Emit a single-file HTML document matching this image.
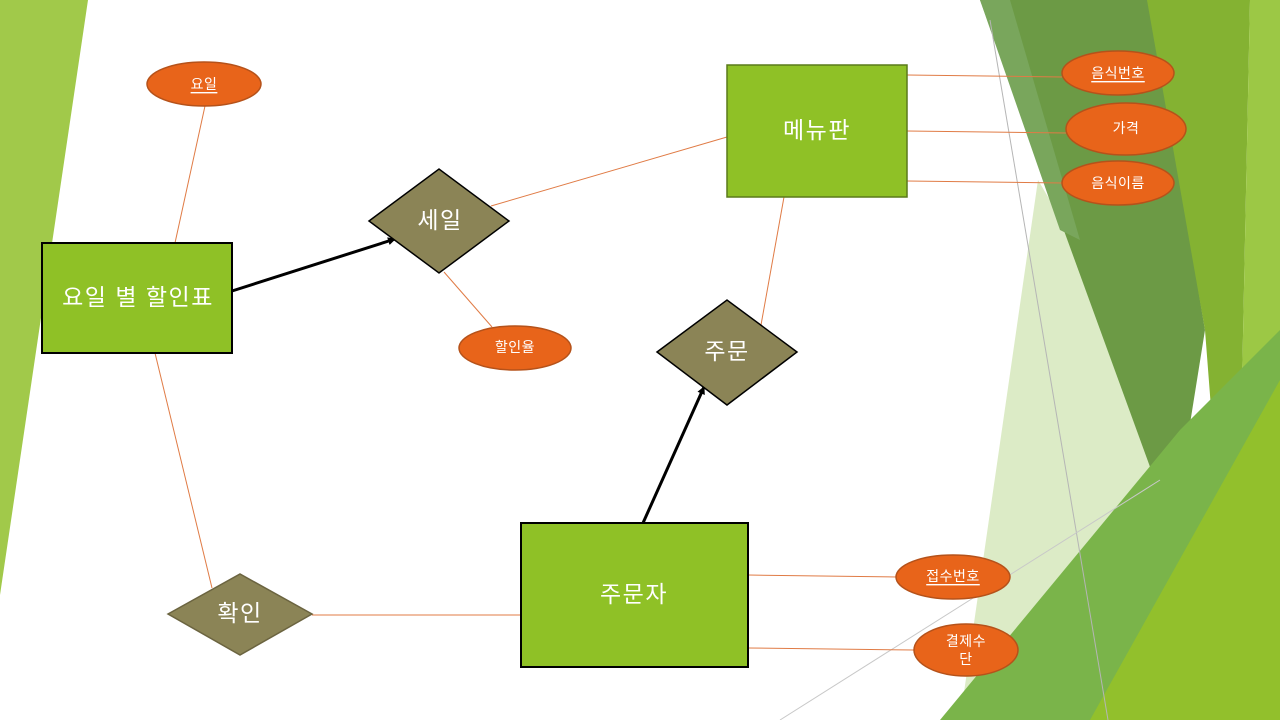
<!DOCTYPE html>
<html><head><meta charset="utf-8"><style>
html,body{margin:0;padding:0;background:#fff;}
svg{display:block;}
text{font-family:"Liberation Sans","Noto Sans CJK KR",sans-serif;fill:#fff;text-anchor:middle;dominant-baseline:central;}
.big{font-size:23px;letter-spacing:1.5px;}
.sm{font-size:14px;letter-spacing:0.5px;}
</style></head><body>
<svg width="1280" height="720" viewBox="0 0 1280 720" xmlns="http://www.w3.org/2000/svg">
<polygon points="0,0 88,0 0,595" fill="#a1c94a"/>
<polygon points="1038,180 1210,470 1200,720 960,720" fill="#dcebc6"/>
<polygon points="980,0 1150,0 1205,330 1173,530" fill="#6c9a45"/>
<polygon points="980,0 1010,0 1080,240 1060,230" fill="#79a65c"/>
<polygon points="1147,0 1250,0 1235,720 1205,330" fill="#84b232"/>
<polygon points="1250,0 1280,0 1280,720 1235,720" fill="#9cc845"/>
<polygon points="940,720 1180,430 1280,330 1280,720" fill="#7ab44a"/>
<polygon points="1090,720 1280,380 1280,720" fill="#92c02c"/>
<line x1="990" y1="20" x2="1108" y2="720" stroke="#b5b5b5" stroke-width="1"/>
<line x1="780" y1="720" x2="1160" y2="480" stroke="#c8c8c8" stroke-width="1"/>

<g stroke="#e07b45" stroke-width="1" fill="none">
<line x1="205" y1="106" x2="175" y2="243"/>
<line x1="491" y1="206" x2="727" y2="137"/>
<line x1="444" y1="272" x2="492" y2="327"/>
<line x1="907" y1="75" x2="1062" y2="77"/>
<line x1="907" y1="131" x2="1066" y2="133"/>
<line x1="907" y1="181" x2="1062" y2="183"/>
<line x1="784" y1="197" x2="761" y2="325"/>
<line x1="155" y1="353" x2="212" y2="588"/>
<line x1="312" y1="615" x2="521" y2="615"/>
<line x1="748" y1="575" x2="897" y2="577"/>
<line x1="748" y1="648" x2="914" y2="650"/>
</g>
<defs><marker id="a" markerWidth="8" markerHeight="8" refX="7" refY="4" orient="auto" markerUnits="userSpaceOnUse"><path d="M0,0 L8,4 L0,8 z" fill="#000"/></marker></defs>
<line x1="232" y1="291" x2="395" y2="239" stroke="#000" stroke-width="3" marker-end="url(#a)"/>
<line x1="643" y1="523" x2="704" y2="387" stroke="#000" stroke-width="3" marker-end="url(#a)"/>

<g fill="#e8641a" stroke="#b5521a" stroke-width="1.5">
<ellipse cx="204" cy="84" rx="57" ry="22"/>
<ellipse cx="515" cy="348" rx="56" ry="22"/>
<ellipse cx="1118" cy="73" rx="56" ry="22"/>
<ellipse cx="1126" cy="129" rx="60" ry="26"/>
<ellipse cx="1118" cy="183" rx="56" ry="22"/>
<ellipse cx="953" cy="577" rx="57" ry="22"/>
<ellipse cx="966" cy="650" rx="52" ry="26"/>
</g>
<rect x="42" y="243" width="190" height="110" fill="#8fc126" stroke="#000" stroke-width="2"/>
<rect x="727" y="65" width="180" height="132" fill="#8fc126" stroke="#5a7a1a" stroke-width="1.5"/>
<rect x="521" y="523" width="227" height="144" fill="#8fc126" stroke="#000" stroke-width="2"/>
<polygon points="369,221 439,169 509,221 439,273" fill="#8b8456" stroke="#000" stroke-width="1.5"/>
<polygon points="657,352 727,300 797,352 727,405" fill="#8b8456" stroke="#000" stroke-width="1.5"/>
<polygon points="168,614 240,574 312,614 240,655" fill="#8b8456" stroke="#6b6440" stroke-width="1.5"/>

<text x="204" y="84" class="sm" text-decoration="underline">요일</text>
<text x="515" y="347" class="sm">할인율</text>
<text x="1118" y="73" class="sm" text-decoration="underline">음식번호</text>
<text x="1126" y="128" class="sm">가격</text>
<text x="1118" y="183" class="sm">음식이름</text>
<text x="953" y="576" class="sm" text-decoration="underline">접수번호</text>
<text x="966" y="641" class="sm">결제수</text>
<text x="966" y="659" class="sm">단</text>
<text x="138" y="297" class="big">요일 별 할인표</text>
<text x="817" y="130" class="big">메뉴판</text>
<text x="634" y="594" class="big">주문자</text>
<text x="440" y="220" class="big">세일</text>
<text x="727" y="351" class="big">주문</text>
<text x="240" y="613" class="big">확인</text>
</svg>
</body></html>
